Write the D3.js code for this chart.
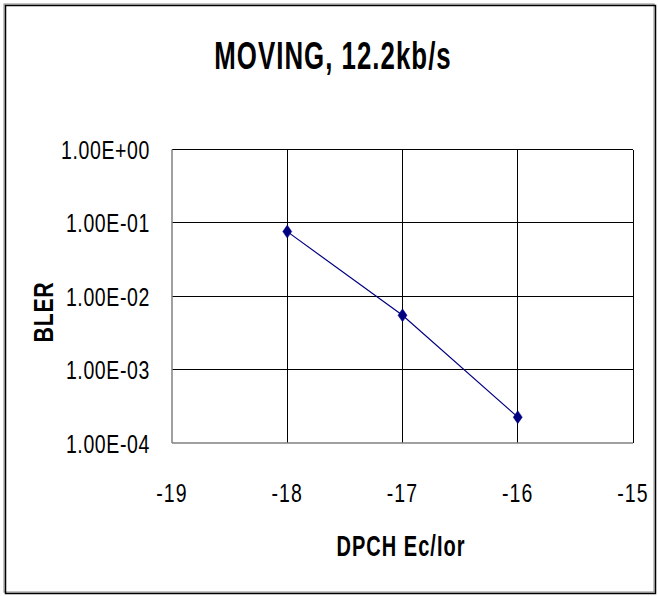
<!DOCTYPE html>
<html>
<head>
<meta charset="utf-8">
<script src="https://cdn.jsdelivr.net/npm/d3@7"></script>
<style>
  html, body { margin: 0; padding: 0; background: #fff; }
  svg { display: block; }
  text { font-family: "Liberation Sans Narrow", "Arial Narrow", "Liberation Sans", Arial, sans-serif; fill: #000; }
</style>
</head>
<body>
<svg id="chart" width="658" height="596"></svg>
<script>
// BLER versus DPCH Ec/Ior for the moving case at 12.2 kb/s
const ecIor = [-18, -17, -16];
const bler = [0.076, 0.0055, 0.000225];
const xTicks = [-19, -18, -17, -16, -15];
const yTicks = [1, 1e-1, 1e-2, 1e-3, 1e-4];
const yTickLabels = ["1.00E+00", "1.00E-01", "1.00E-02", "1.00E-03", "1.00E-04"];
const titleText = "MOVING, 12.2kb/s";
const xTitle = "DPCH Ec/Ior";
const yTitle = "BLER";

const W = 658, H = 596;
const plot = { left: 172, right: 633, top: 149.5, bottom: 443 };

const svg = d3.select("#chart");

// outer chart frame
svg.append("rect")
  .attr("x", 4).attr("y", 4).attr("width", W - 8).attr("height", H - 8)
  .attr("fill", "none").attr("stroke", "#888").attr("stroke-width", 1);
svg.append("rect")
  .attr("x", 5.5).attr("y", 5.5).attr("width", 650).attr("height", 588)
  .attr("fill", "none").attr("stroke", "#000").attr("stroke-width", 1.5);

const x = d3.scaleLinear().domain([-19, -15]).range([plot.left, plot.right]);
const y = d3.scaleLog().domain([1e-4, 1]).range([plot.bottom, plot.top]);

// gridlines
const grid = svg.append("g").attr("stroke", "#000").attr("stroke-width", 1).attr("shape-rendering", "crispEdges");
grid.selectAll("line.v").data(xTicks.slice(1)).join("line")
  .attr("x1", d => x(d)).attr("x2", d => x(d))
  .attr("y1", plot.top).attr("y2", plot.bottom);
grid.selectAll("line.h").data(yTicks.slice(0, -1)).join("line")
  .attr("x1", plot.left).attr("x2", plot.right)
  .attr("y1", d => y(d)).attr("y2", d => y(d));

// axis lines (left and bottom) in grey
const axes = svg.append("g").attr("stroke", "#808080").attr("stroke-width", 1.5).attr("fill", "none");
axes.append("line").attr("x1", plot.left).attr("x2", plot.left).attr("y1", plot.top).attr("y2", plot.bottom);
axes.append("line").attr("x1", plot.left).attr("x2", plot.right).attr("y1", plot.bottom).attr("y2", plot.bottom);

// horizontally condensed text helper
function label(g, str, px, py, size, weight, anchor, sx) {
  return g.append("g").attr("transform", `translate(${px},${py}) scale(${sx},1)`)
    .append("text").text(str)
    .attr("font-size", size).attr("font-weight", weight)
    .attr("text-anchor", anchor);
}

const labels = svg.append("g");
yTicks.forEach((v, i) => {
  label(labels, yTickLabels[i], 150, y(v) + 9.5, 25, "normal", "end", 0.78)
    .attr("letter-spacing", 0.8);
});
xTicks.forEach(v => {
  label(labels, String(v), x(v), 502, 25, "normal", "middle", 0.78)
    .attr("letter-spacing", 1.5);
});

label(labels, titleText, 333, 69.3, 38, "bold", "middle", 0.68).attr("letter-spacing", 1.5);
label(labels, xTitle, 401, 556, 29, "bold", "middle", 0.69).attr("letter-spacing", 1.5);

svg.append("g").attr("transform", "translate(53,312) rotate(-90) scale(0.76,1)")
  .append("text").text(yTitle)
  .attr("font-size", 28).attr("font-weight", "bold")
  .attr("text-anchor", "middle").attr("letter-spacing", 1);

// series line and diamond markers
const pts = ecIor.map((e, i) => [e, bler[i]]);
svg.append("path")
  .datum(pts)
  .attr("fill", "none").attr("stroke", "#000080").attr("stroke-width", 1.2)
  .attr("d", d3.line().x(d => x(d[0])).y(d => y(d[1])));

const diamond = "M0,-6.5L4.5,0L0,6.5L-4.5,0Z";
svg.append("g").selectAll("path").data(pts).join("path")
  .attr("transform", d => `translate(${x(d[0])},${y(d[1])})`)
  .attr("d", diamond)
  .attr("fill", "#000080").attr("stroke", "#000080").attr("stroke-width", 0.5);
</script>
</body>
</html>
